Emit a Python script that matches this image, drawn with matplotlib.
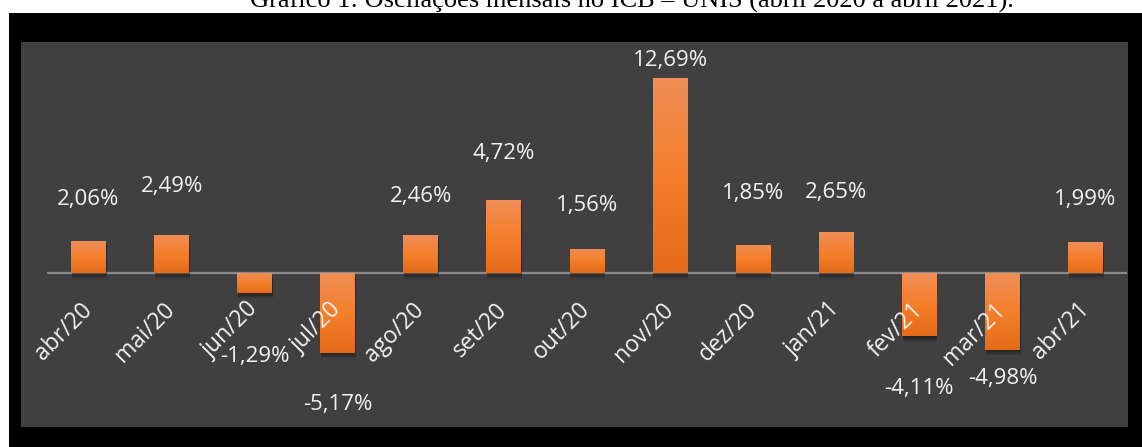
import numpy as np
import matplotlib
matplotlib.use('Agg')
import matplotlib.pyplot as plt
from matplotlib.colors import LinearSegmentedColormap
from matplotlib.patches import Rectangle
import matplotlib.patheffects as pe

# monthly variation of the ICB index (%)
months = ['abr/20', 'mai/20', 'jun/20', 'jul/20', 'ago/20', 'set/20', 'out/20',
          'nov/20', 'dez/20', 'jan/21', 'fev/21', 'mar/21', 'abr/21']
values = [2.06, 2.49, -1.29, -5.17, 2.46, 4.72, 1.56,
          12.69, 1.85, 2.65, -4.11, -4.98, 1.99]
# where Excel dropped each data label (data units)
label_y = [4.79, 5.63, -5.41, -8.53, 4.98, 7.77, 4.40,
           13.81, 5.18, 5.24, -7.49, -6.84, 4.79]
title = 'Gráfico 1: Oscilações mensais no ICB – UNIS (abril 2020 a abril 2021).'

W, H = 1142, 447
fig = plt.figure(figsize=(W / 100, H / 100), dpi=100, facecolor='black')

# white page strips around the black frame
fig.patches.append(Rectangle((0, 1 - 13 / H), 1, 13 / H, transform=fig.transFigure,
                             fc='white', ec='none', zorder=-2))
fig.patches.append(Rectangle((0, 0), 9 / W, 1, transform=fig.transFigure,
                             fc='white', ec='none', zorder=-2))
# chart area
fig.patches.append(Rectangle((21 / W, (H - 427) / H), (1128 - 21) / W, (427 - 42) / H,
                             transform=fig.transFigure, fc='#404040', ec='none', zorder=-1))

fig.text(632 / W, 1 - 8 / H, title, ha='center', va='baseline',
         family='Liberation Serif', fontsize=19, color='black')

ax = fig.add_axes([47 / W, (H - 427) / H, 1080 / W, 385 / H], zorder=2)
ax.set_facecolor('none')
ax.set_xlim(-0.5, len(months) - 0.5)
ax.set_ylim(-10, 15)
ax.axis('off')

ax.axhline(0, color='#8a8a8a', lw=1.6, zorder=1)

grad = LinearSegmentedColormap.from_list('bar', ['#E56B18', '#F57F2B', '#F08E58'])
x = np.arange(len(months))
width = 0.42
# soft shadow: a few faint offset copies
shadow = [pe.SimplePatchShadow(offset=(0.5, -d), shadow_rgbFace='black', alpha=0.12)
          for d in (1.0, 2.0, 3.0, 4.0)]
bars = ax.bar(x, values, width=width, color='#F57F2B', zorder=2,
              path_effects=shadow + [pe.Normal()])
ramp = np.linspace(0, 1, 256).reshape(-1, 1)
for b, v in zip(bars, values):
    x0 = b.get_x()
    lo, hi = min(0, v), max(0, v)
    im = ax.imshow(ramp, cmap=grad, origin='lower', aspect='auto',
                   extent=[x0, x0 + b.get_width(), lo, hi], zorder=3)
    im.set_clip_path(b)

txt_kw = dict(family=['Open Sans', 'DejaVu Sans'], fontsize=16, color='#F2F2F2')

for xi, v, ly in zip(x, values, label_y):
    ax.text(xi, ly, f'{v:.2f}%'.replace('.', ','), ha='center', va='center',
            zorder=5, **txt_kw)

for xi, m in zip(x, months):
    ax.annotate(m, (xi, 0), xytext=(3, -27), textcoords='offset points',
                rotation=45, rotation_mode='anchor', ha='right', va='baseline',
                zorder=5, family=['Open Sans', 'DejaVu Sans'], fontsize=16.5,
                color='#F2F2F2')

fig.savefig('out.png', dpi=100, facecolor=fig.get_facecolor())
